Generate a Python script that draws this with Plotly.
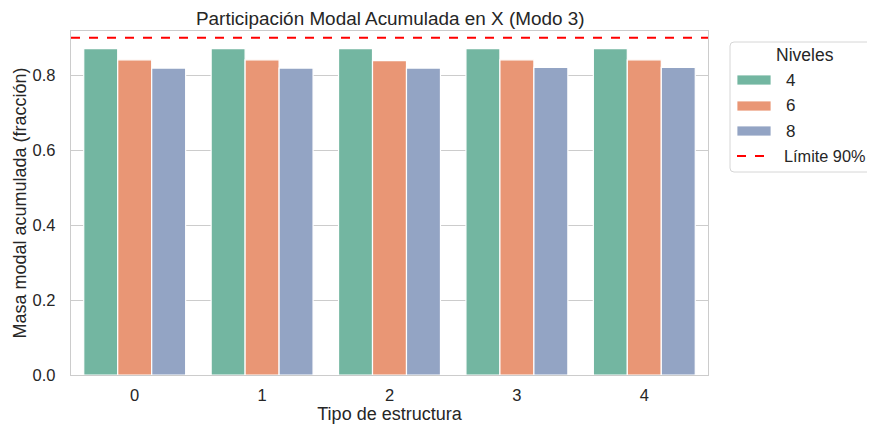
import plotly.graph_objects as go

categories = [0, 1, 2, 3, 4]
niveles = ["4", "6", "8"]
vals_4 = [0.871, 0.871, 0.871, 0.871, 0.871]
vals_6 = [0.841, 0.841, 0.839, 0.841, 0.841]
vals_8 = [0.819, 0.819, 0.819, 0.821, 0.821]
limite = 0.9
limite_label = "Límite 90%"
legend_title = "Niveles"
colors = ["#73b6a1", "#e99675", "#93a4c4"]

FONT = "Arial, Liberation Sans, sans-serif"
TXT = "#262626"

# page body adds an 8px margin on every side, so figure is 859x416 (no overflow)
W, H = 859, 416
ML, MR, MT, MB = 63, 159, 23, 49
PW, PH = W - ML - MR, H - MT - MB


def px(xp):  # page x pixel -> paper
    return (xp - 8 - ML) / PW


def py(yp):  # page y pixel -> paper
    return 1 - (yp - 8 - MT) / PH


fig = go.Figure()
for name, vals, c in zip(niveles, [vals_4, vals_6, vals_8], colors):
    fig.add_trace(go.Bar(
        x=categories, y=vals, name=name, showlegend=False,
        marker=dict(color=c, line=dict(color="white", width=1.2)),
    ))
fig.add_trace(go.Scatter(
    x=[-0.5, 4.5], y=[limite, limite], mode="lines", name=limite_label, showlegend=False,
    line=dict(color="red", dash="dash", width=1.8),
))

# manual legend
shapes = []
annotations = []
x0, x1, y0, y1, r = 730, 890, 42, 172, 4
path = (f"M {px(x0 + r)},{py(y0)} L {px(x1 - r)},{py(y0)} "
        f"Q {px(x1)},{py(y0)} {px(x1)},{py(y0 + r)} L {px(x1)},{py(y1 - r)} "
        f"Q {px(x1)},{py(y1)} {px(x1 - r)},{py(y1)} L {px(x0 + r)},{py(y1)} "
        f"Q {px(x0)},{py(y1)} {px(x0)},{py(y1 - r)} L {px(x0)},{py(y0 + r)} "
        f"Q {px(x0)},{py(y0)} {px(x0 + r)},{py(y0)} Z")
shapes.append(dict(type="path", xref="paper", yref="paper", path=path,
                   line=dict(color="#d6d6d6", width=1), fillcolor="white", layer="above"))
annotations.append(dict(text=legend_title, xref="paper", yref="paper", x=px(805), y=py(55),
                        xanchor="center", yanchor="middle", showarrow=False,
                        font=dict(size=17.5, color=TXT)))
rows = [80, 106, 131]
for name, c, yy in zip(niveles, colors, rows):
    shapes.append(dict(type="rect", xref="paper", yref="paper", x0=px(737), x1=px(771),
                       y0=py(yy - 5), y1=py(yy + 5), fillcolor=c,
                       line=dict(color="white", width=0.8), layer="above"))
    annotations.append(dict(text=name, xref="paper", yref="paper", x=px(784), y=py(yy),
                            xanchor="left", yanchor="middle", showarrow=False,
                            font=dict(size=17, color=TXT)))
shapes.append(dict(type="line", xref="paper", yref="paper", x0=px(737), x1=px(771),
                   y0=py(156), y1=py(156), line=dict(color="red", dash="dash", width=1.8),
                   layer="above"))
annotations.append(dict(text=limite_label, xref="paper", yref="paper", x=px(782), y=py(156),
                        xanchor="left", yanchor="middle", showarrow=False,
                        font=dict(size=16.3, color=TXT)))

fig.update_layout(
    width=W, height=H,
    margin=dict(l=ML, r=MR, t=MT, b=MB),
    plot_bgcolor="white", paper_bgcolor="white", showlegend=False,
    barmode="group", bargap=0.2, bargroupgap=0,
    font=dict(family=FONT, size=17, color=TXT),
    title=dict(text="Participación Modal Acumulada en X (Modo 3)", x=0.445, xanchor="center",
               y=0.976, yanchor="middle", font=dict(size=18.9, color=TXT)),
    xaxis=dict(range=[-0.5, 4.5], tickvals=categories, ticktext=[str(c) for c in categories],
               showgrid=False, zeroline=False, showline=True, linecolor="#cccccc", linewidth=1.3,
               mirror=True, ticks="", tickfont=dict(size=16.5), ticklabelstandoff=5,
               automargin=False,
               title=dict(text="Tipo de estructura", font=dict(size=18), standoff=11)),
    yaxis=dict(range=[0, 0.918], tickvals=[0, 0.2, 0.4, 0.6, 0.8],
               ticktext=["0.0", "0.2", "0.4", "0.6", "0.8"],
               showgrid=True, gridcolor="#cccccc", gridwidth=1.2, zeroline=False,
               showline=True, linecolor="#cccccc", linewidth=1.3, mirror=True, ticks="",
               tickfont=dict(size=16.5), ticklabelstandoff=11, automargin=False,
               title=dict(text="Masa modal acumulada (fracción)", font=dict(size=18), standoff=1)),
    shapes=shapes,
    annotations=annotations,
)
fig.write_html("out.html")
